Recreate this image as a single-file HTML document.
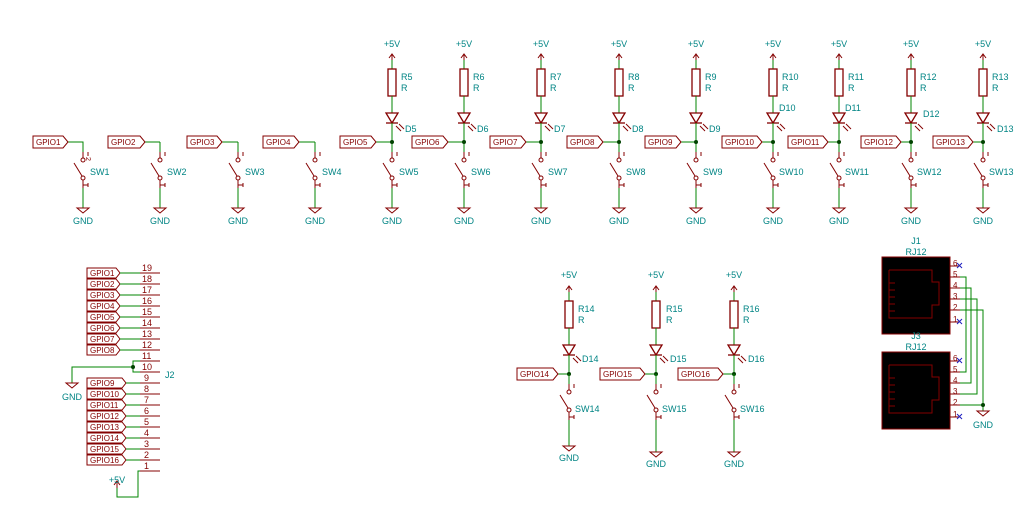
<!DOCTYPE html>
<html><head><meta charset="utf-8"><style>
html,body{margin:0;padding:0;background:#fff;}
svg{display:block}
text{font-family:"Liberation Sans",sans-serif;font-size:9px;}
.t{fill:#008484}
.r{fill:#840000}
.lb text{font-size:8px}
</style></head><body>
<svg width="1023" height="520" viewBox="0 0 1023 520" xmlns="http://www.w3.org/2000/svg">
<defs>
<g id="sw" fill="none" stroke-width="1">
 <line x1="0" y1="0" x2="0" y2="10" stroke="#008400"/>
 <line x1="0" y1="10" x2="0" y2="16" stroke="#840000"/>
 <circle cx="0" cy="18" r="2" stroke="#840000"/>
 <line x1="-1" y1="34" x2="-9" y2="21" stroke="#840000"/>
 <circle cx="0" cy="36" r="2" stroke="#840000"/>
 <line x1="0" y1="38" x2="0" y2="46" stroke="#840000"/>
 <line x1="0" y1="43" x2="5" y2="43" stroke="#840000"/>
 <line x1="5" y1="41" x2="5" y2="45" stroke="#840000"/>
 <line x1="5" y1="10" x2="5" y2="14" stroke="#840000"/>
</g>
<g id="gnd" fill="none" stroke="#840000"><polygon points="-6,0 6,0 0,5"/></g>
<g id="led" fill="none" stroke-width="1">
 <polyline points="-3,13 0,9 3,13" stroke="#840000"/>
 <line x1="0" y1="9" x2="0" y2="15" stroke="#840000"/>
 <line x1="0" y1="15" x2="0" y2="24" stroke="#008400"/>
 <rect x="-4" y="24" width="8" height="27" stroke="#840000" stroke-width="1.3"/>
 <line x1="0" y1="51" x2="0" y2="68" stroke="#008400"/>
 <polygon points="-6,68 6,68 0,78" stroke="#840000" stroke-width="1.3"/>
 <line x1="-6" y1="78" x2="6" y2="78" stroke="#840000" stroke-width="1.3"/>
 <line x1="0" y1="78" x2="0" y2="97" stroke="#008400"/>
 <line x1="4" y1="81" x2="9" y2="86" stroke="#840000"/>
 <line x1="7" y1="79" x2="12" y2="84" stroke="#840000"/>
 <circle cx="0" cy="97" r="2" fill="#004200" stroke="none"/>
</g>
</defs>

<g id="top">
<g stroke="#008400" fill="none">
 <polyline points="68,142 83,142 83,143"/>
 <polyline points="145,142 160,142"/>
 <polyline points="222,142 238,142"/>
 <polyline points="299,142 315,142"/>
 <line x1="376" y1="142" x2="392" y2="142"/>
 <line x1="448" y1="142" x2="464" y2="142"/>
 <line x1="526" y1="142" x2="541" y2="142"/>
 <line x1="603" y1="142" x2="619" y2="142"/>
 <line x1="681" y1="142" x2="696" y2="142"/>
 <line x1="762" y1="142" x2="773" y2="142"/>
 <line x1="828" y1="142" x2="839" y2="142"/>
 <line x1="901" y1="142" x2="911" y2="142"/>
 <line x1="973" y1="142" x2="983" y2="142"/>
</g>
<g fill="none" stroke="#008400">
 <line x1="83" y1="188" x2="83" y2="208"/><line x1="160" y1="188" x2="160" y2="208"/><line x1="238" y1="188" x2="238" y2="208"/><line x1="315" y1="188" x2="315" y2="208"/>
 <line x1="392" y1="188" x2="392" y2="208"/><line x1="464" y1="188" x2="464" y2="208"/><line x1="541" y1="188" x2="541" y2="208"/><line x1="619" y1="188" x2="619" y2="208"/>
 <line x1="696" y1="188" x2="696" y2="208"/><line x1="773" y1="188" x2="773" y2="208"/><line x1="839" y1="188" x2="839" y2="208"/><line x1="911" y1="188" x2="911" y2="208"/><line x1="983" y1="188" x2="983" y2="208"/>
</g>
<use href="#sw" x="83" y="142"/><use href="#sw" x="160" y="142"/><use href="#sw" x="238" y="142"/><use href="#sw" x="315" y="142"/>
<use href="#sw" x="392" y="142"/><use href="#sw" x="464" y="142"/><use href="#sw" x="541" y="142"/><use href="#sw" x="619" y="142"/>
<use href="#sw" x="696" y="142"/><use href="#sw" x="773" y="142"/><use href="#sw" x="839" y="142"/><use href="#sw" x="911" y="142"/><use href="#sw" x="983" y="142"/>
<use href="#gnd" x="83" y="208"/><use href="#gnd" x="160" y="208"/><use href="#gnd" x="238" y="208"/><use href="#gnd" x="315" y="208"/>
<use href="#gnd" x="392" y="208"/><use href="#gnd" x="464" y="208"/><use href="#gnd" x="541" y="208"/><use href="#gnd" x="619" y="208"/>
<use href="#gnd" x="696" y="208"/><use href="#gnd" x="773" y="208"/><use href="#gnd" x="839" y="208"/><use href="#gnd" x="911" y="208"/><use href="#gnd" x="983" y="208"/>
<use href="#led" x="392" y="45"/><use href="#led" x="464" y="45"/><use href="#led" x="541" y="45"/><use href="#led" x="619" y="45"/>
<use href="#led" x="696" y="45"/><use href="#led" x="773" y="45"/><use href="#led" x="839" y="45"/><use href="#led" x="911" y="45"/><use href="#led" x="983" y="45"/>

<g fill="none" stroke="#840000">
 <polygon points="33,136 63,136 68,142 63,148 33,148"/>
 <polygon points="108,136 140,136 145,142 140,148 108,148"/>
 <polygon points="187,136 217,136 222,142 217,148 187,148"/>
 <polygon points="263,136 294,136 299,142 294,148 263,148"/>
 <polygon points="340,136 371,136 376,142 371,148 340,148"/>
 <polygon points="412,136 443,136 448,142 443,148 412,148"/>
 <polygon points="490,136 521,136 526,142 521,148 490,148"/>
 <polygon points="567,136 598,136 603,142 598,148 567,148"/>
 <polygon points="645,136 676,136 681,142 676,148 645,148"/>
 <polygon points="722,136 757,136 762,142 757,148 722,148"/>
 <polygon points="788,136 823,136 828,142 823,148 788,148"/>
 <polygon points="861,136 896,136 901,142 896,148 861,148"/>
 <polygon points="933,136 968,136 973,142 968,148 933,148"/>
</g>
<g class="r lb">
 <text x="36" y="145">GPIO1</text><text x="111" y="145">GPIO2</text><text x="190" y="145">GPIO3</text><text x="266" y="145">GPIO4</text>
 <text x="343" y="145">GPIO5</text><text x="415" y="145">GPIO6</text><text x="493" y="145">GPIO7</text><text x="570" y="145">GPIO8</text>
 <text x="648" y="145">GPIO9</text><text x="725" y="145">GPIO10</text><text x="791" y="145">GPIO11</text><text x="864" y="145">GPIO12</text><text x="936" y="145">GPIO13</text>
</g>
<g class="r">
 <text x="86" y="157" transform="rotate(90 86 157)" style="font-size:7px">2</text>
</g>
<g class="t">
 <text x="90" y="175">SW1</text><text x="167" y="175">SW2</text><text x="245" y="175">SW3</text><text x="322" y="175">SW4</text>
 <text x="399" y="175">SW5</text><text x="471" y="175">SW6</text><text x="548" y="175">SW7</text><text x="626" y="175">SW8</text>
 <text x="703" y="175">SW9</text><text x="779" y="175">SW10</text><text x="845" y="175">SW11</text><text x="917" y="175">SW12</text><text x="989" y="175">SW13</text>
 <g text-anchor="middle">
 <text x="83" y="224">GND</text><text x="160" y="224">GND</text><text x="238" y="224">GND</text><text x="315" y="224">GND</text>
 <text x="392" y="224">GND</text><text x="464" y="224">GND</text><text x="541" y="224">GND</text><text x="619" y="224">GND</text>
 <text x="696" y="224">GND</text><text x="773" y="224">GND</text><text x="839" y="224">GND</text><text x="911" y="224">GND</text><text x="983" y="224">GND</text>
 <text x="392" y="47">+5V</text><text x="464" y="47">+5V</text><text x="541" y="47">+5V</text><text x="619" y="47">+5V</text>
 <text x="696" y="47">+5V</text><text x="773" y="47">+5V</text><text x="839" y="47">+5V</text><text x="911" y="47">+5V</text><text x="983" y="47">+5V</text>
 </g>
 <text x="401" y="80">R5</text><text x="401" y="91">R</text>
 <text x="473" y="80">R6</text><text x="473" y="91">R</text>
 <text x="550" y="80">R7</text><text x="550" y="91">R</text>
 <text x="628" y="80">R8</text><text x="628" y="91">R</text>
 <text x="705" y="80">R9</text><text x="705" y="91">R</text>
 <text x="782" y="80">R10</text><text x="782" y="91">R</text>
 <text x="848" y="80">R11</text><text x="848" y="91">R</text>
 <text x="920" y="80">R12</text><text x="920" y="91">R</text>
 <text x="992" y="80">R13</text><text x="992" y="91">R</text>
 <text x="405" y="132">D5</text><text x="477" y="132">D6</text><text x="554" y="132">D7</text><text x="632" y="132">D8</text><text x="709" y="132">D9</text>
 <text x="779" y="111">D10</text><text x="845" y="111">D11</text><text x="923" y="117">D12</text><text x="997" y="132">D13</text>
</g>
</g>

<g stroke="#008400" fill="none">
 <line x1="558" y1="374" x2="569" y2="374"/><line x1="645" y1="374" x2="656" y2="374"/><line x1="723" y1="374" x2="734" y2="374"/>
 <line x1="569" y1="420" x2="569" y2="446"/><line x1="656" y1="420" x2="656" y2="452"/><line x1="734" y1="420" x2="734" y2="452"/>
</g>
<use href="#led" x="569" y="277"/><use href="#led" x="656" y="277"/><use href="#led" x="734" y="277"/>
<use href="#sw" x="569" y="374"/><use href="#sw" x="656" y="374"/><use href="#sw" x="734" y="374"/>
<use href="#gnd" x="569" y="446"/><use href="#gnd" x="656" y="452"/><use href="#gnd" x="734" y="452"/>
<g fill="none" stroke="#840000">
 <polygon points="517,368 553,368 558,374 553,380 517,380"/>
 <polygon points="600,368 640,368 645,374 640,380 600,380"/>
 <polygon points="678,368 718,368 723,374 718,380 678,380"/>
</g>
<g class="r lb"><text x="520" y="377">GPIO14</text><text x="603" y="377">GPIO15</text><text x="681" y="377">GPIO16</text></g>
<g class="t">
 <g text-anchor="middle"><text x="569" y="278">+5V</text><text x="656" y="278">+5V</text><text x="734" y="278">+5V</text>
 <text x="569" y="461">GND</text><text x="656" y="467">GND</text><text x="734" y="467">GND</text></g>
 <text x="578" y="312">R14</text><text x="578" y="323">R</text>
 <text x="666" y="312">R15</text><text x="666" y="323">R</text>
 <text x="743" y="312">R16</text><text x="743" y="323">R</text>
 <text x="582" y="362">D14</text><text x="670" y="362">D15</text><text x="748" y="362">D16</text>
 <text x="575" y="412">SW14</text><text x="662" y="412">SW15</text><text x="740" y="412">SW16</text>
</g>

<g fill="none" stroke="#840000">
 <polygon points="87,268 116,268 120,273 116,278 87,278"/>
 <polygon points="87,279 116,279 120,284 116,289 87,289"/>
 <polygon points="87,290 116,290 120,295 116,300 87,300"/>
 <polygon points="87,301 116,301 120,306 116,311 87,311"/>
 <polygon points="87,312 116,312 120,317 116,322 87,322"/>
 <polygon points="87,323 116,323 120,328 116,333 87,333"/>
 <polygon points="87,334 116,334 120,339 116,344 87,344"/>
 <polygon points="87,345 116,345 120,350 116,355 87,355"/>
 <polygon points="87,378 122,378 126,383 122,388 87,388"/>
 <polygon points="87,389 122,389 126,394 122,399 87,399"/>
 <polygon points="87,400 122,400 126,405 122,410 87,410"/>
 <polygon points="87,411 122,411 126,416 122,421 87,421"/>
 <polygon points="87,422 122,422 126,427 122,432 87,432"/>
 <polygon points="87,433 122,433 126,438 122,443 87,443"/>
 <polygon points="87,444 122,444 126,449 122,454 87,454"/>
 <polygon points="87,455 122,455 126,460 122,465 87,465"/>
</g>
<g class="r lb">
 <text x="90" y="276">GPIO1</text><text x="90" y="287">GPIO2</text><text x="90" y="298">GPIO3</text><text x="90" y="309">GPIO4</text>
 <text x="90" y="320">GPIO5</text><text x="90" y="331">GPIO6</text><text x="90" y="342">GPIO7</text><text x="90" y="353">GPIO8</text>
 <text x="90" y="386">GPIO9</text><text x="90" y="397">GPIO10</text><text x="90" y="408">GPIO11</text><text x="90" y="419">GPIO12</text>
 <text x="90" y="430">GPIO13</text><text x="90" y="441">GPIO14</text><text x="90" y="452">GPIO15</text><text x="90" y="463">GPIO16</text>
</g>
<g stroke="#008400" fill="none">
 <line x1="120" y1="273" x2="140" y2="273"/><line x1="120" y1="284" x2="140" y2="284"/><line x1="120" y1="295" x2="140" y2="295"/><line x1="120" y1="306" x2="140" y2="306"/>
 <line x1="120" y1="317" x2="140" y2="317"/><line x1="120" y1="328" x2="140" y2="328"/><line x1="120" y1="339" x2="140" y2="339"/><line x1="120" y1="350" x2="140" y2="350"/>
 <line x1="126" y1="383" x2="140" y2="383"/><line x1="126" y1="394" x2="140" y2="394"/><line x1="126" y1="405" x2="140" y2="405"/><line x1="126" y1="416" x2="140" y2="416"/>
 <line x1="126" y1="427" x2="140" y2="427"/><line x1="126" y1="438" x2="140" y2="438"/><line x1="126" y1="449" x2="140" y2="449"/><line x1="126" y1="460" x2="140" y2="460"/>
 <polyline points="140,361 133,361 133,372 140,372"/>
 <polyline points="133,367 72,367 72,383"/>
 <polyline points="117,488 117,497 138,497 138,471 140,471"/>
</g>
<circle cx="133" cy="367" r="2" fill="#004200"/>
<g stroke="#840000">
 <line x1="140" y1="273" x2="160" y2="273"/><line x1="140" y1="284" x2="160" y2="284"/><line x1="140" y1="295" x2="160" y2="295"/><line x1="140" y1="306" x2="160" y2="306"/>
 <line x1="140" y1="317" x2="160" y2="317"/><line x1="140" y1="328" x2="160" y2="328"/><line x1="140" y1="339" x2="160" y2="339"/><line x1="140" y1="350" x2="160" y2="350"/>
 <line x1="140" y1="361" x2="160" y2="361"/><line x1="140" y1="372" x2="160" y2="372"/>
 <line x1="140" y1="383" x2="160" y2="383"/><line x1="140" y1="394" x2="160" y2="394"/><line x1="140" y1="405" x2="160" y2="405"/><line x1="140" y1="416" x2="160" y2="416"/>
 <line x1="140" y1="427" x2="160" y2="427"/><line x1="140" y1="438" x2="160" y2="438"/><line x1="140" y1="449" x2="160" y2="449"/><line x1="140" y1="460" x2="160" y2="460"/>
 <line x1="140" y1="471" x2="160" y2="471"/>
 <polyline points="114,485 117,481 120,485" fill="none"/><line x1="117" y1="481" x2="117" y2="488"/>
</g>
<use href="#gnd" x="72" y="383"/>
<g class="r">
 <text x="142" y="271">19</text><text x="142" y="282">18</text><text x="142" y="293">17</text><text x="142" y="304">16</text>
 <text x="142" y="315">15</text><text x="142" y="326">14</text><text x="142" y="337">13</text><text x="142" y="348">12</text>
 <text x="142" y="359">11</text><text x="142" y="370">10</text><text x="144" y="381">9</text><text x="144" y="392">8</text>
 <text x="144" y="403">7</text><text x="144" y="414">6</text><text x="144" y="425">5</text><text x="144" y="436">4</text>
 <text x="144" y="447">3</text><text x="144" y="458">2</text><text x="144" y="469">1</text>
</g>
<g class="t"><text x="165" y="378">J2</text><text x="72" y="400" text-anchor="middle">GND</text><text x="117" y="483" text-anchor="middle">+5V</text></g>

<g>
 <rect x="882" y="257" width="68" height="77" fill="#000" stroke="#840000"/>
 <rect x="882" y="352" width="68" height="77" fill="#000" stroke="#840000"/>
 <g fill="none" stroke="#840000">
  <polyline points="889,270 932,270 932,282 939,282 939,305 932,305 932,318 889,318 889,270"/>
  <polyline points="889,365 932,365 932,377 939,377 939,400 932,400 932,413 889,413 889,365"/>
  <line x1="889" y1="283" x2="895" y2="283"/><line x1="889" y1="290" x2="895" y2="290"/><line x1="889" y1="297" x2="895" y2="297"/><line x1="889" y1="304" x2="895" y2="304"/><line x1="889" y1="311" x2="895" y2="311"/>
  <line x1="889" y1="378" x2="895" y2="378"/><line x1="889" y1="385" x2="895" y2="385"/><line x1="889" y1="392" x2="895" y2="392"/><line x1="889" y1="399" x2="895" y2="399"/><line x1="889" y1="406" x2="895" y2="406"/>
  <line x1="950" y1="266" x2="960" y2="266"/><line x1="950" y1="277" x2="960" y2="277"/><line x1="950" y1="288" x2="960" y2="288"/><line x1="950" y1="299" x2="960" y2="299"/><line x1="950" y1="310" x2="960" y2="310"/><line x1="950" y1="322" x2="960" y2="322"/>
  <line x1="950" y1="361" x2="960" y2="361"/><line x1="950" y1="372" x2="960" y2="372"/><line x1="950" y1="383" x2="960" y2="383"/><line x1="950" y1="394" x2="960" y2="394"/><line x1="950" y1="405" x2="960" y2="405"/><line x1="950" y1="417" x2="960" y2="417"/>
 </g>
 <g fill="none" stroke="#008400">
  <polyline points="960,277 966,277 966,372 960,372"/>
  <polyline points="960,288 971,288 971,383 960,383"/>
  <polyline points="960,299 977,299 977,394 960,394"/>
  <polyline points="960,310 983,310 983,411"/>
  <line x1="960" y1="405" x2="983" y2="405"/>
 </g>
 <circle cx="983" cy="405" r="2" fill="#004200"/>
 <use href="#gnd" x="983" y="411"/>
 <g stroke="#2020c0"><path d="M957,263 l5,5 M962,263 l-5,5 M957,319 l5,5 M962,319 l-5,5 M957,358 l5,5 M962,358 l-5,5 M957,414 l5,5 M962,414 l-5,5"/></g>
 <g class="r">
  <text x="953" y="266" style="font-size:8px">6</text><text x="953" y="277" style="font-size:8px">5</text><text x="953" y="288" style="font-size:8px">4</text><text x="953" y="299" style="font-size:8px">3</text><text x="953" y="310" style="font-size:8px">2</text><text x="953" y="322" style="font-size:8px">1</text>
  <text x="953" y="361" style="font-size:8px">6</text><text x="953" y="372" style="font-size:8px">5</text><text x="953" y="383" style="font-size:8px">4</text><text x="953" y="394" style="font-size:8px">3</text><text x="953" y="405" style="font-size:8px">2</text><text x="953" y="417" style="font-size:8px">1</text>
 </g>
 <g class="t" text-anchor="middle">
  <text x="916" y="244">J1</text><text x="916" y="255">RJ12</text>
  <text x="916" y="339">J3</text><text x="916" y="350">RJ12</text>
  <text x="983" y="428">GND</text>
 </g>
</g>
</svg>
</body></html>
